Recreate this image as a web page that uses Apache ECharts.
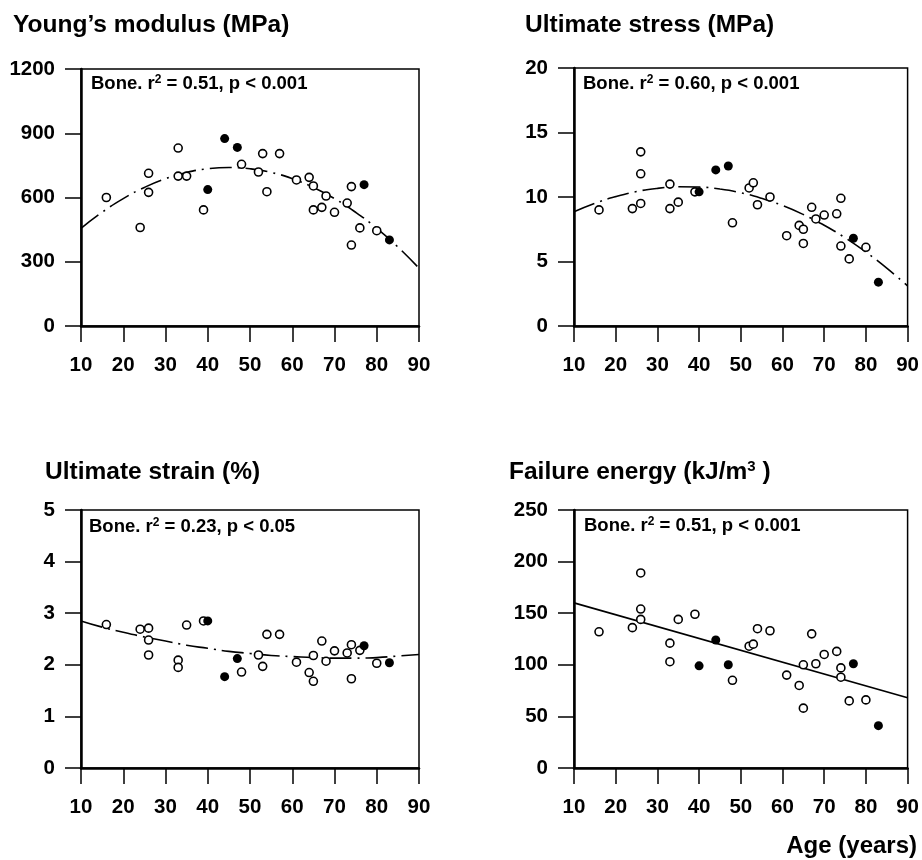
<!DOCTYPE html>
<html>
<head>
<meta charset="utf-8">
<script src="https://cdn.jsdelivr.net/npm/echarts@6/dist/echarts.min.js"></script>
<style>
html,body{margin:0;padding:0;background:#fff;}
#chart{width:922px;height:860px;}
</style>
</head>
<body>
<div id="chart"></div>
<script>
// ---------- data (age in years, value) ----------
const ageTicks = [10, 20, 30, 40, 50, 60, 70, 80, 90];

const youngOpen = [[16,600],[24,460],[26,713],[26,624],[33,831],[33,700],[35,700],[39,542],[48,755],[52,719],[53,805],[54,627],[57,805],[61,682],[64,694],[65,654],[65,542],[67,554],[68,607],[70,531],[73,574],[74,651],[74,378],[76,458],[80,445]];
const youngFilled = [[40,637],[44,875],[47,834],[77,660],[83,402]];
const youngFit = [[10,456],[15,531],[20,595],[25,647],[30,688],[35,717],[40,734],[45,740],[50,734],[55,717],[60,688],[65,647],[70,595],[75,531],[80,456],[85,369],[90,270]];

const stressOpen = [[16,9.0],[24,9.1],[26,13.5],[26,11.8],[26,9.5],[33,9.1],[33,11.0],[35,9.6],[39,10.4],[48,8.0],[52,10.7],[53,11.1],[54,9.4],[57,10.0],[61,7.0],[64,7.8],[65,7.5],[65,6.4],[67,9.2],[68,8.3],[70,8.6],[73,8.7],[74,9.9],[74,6.2],[76,5.2],[80,6.1]];
const stressFilled = [[40,10.4],[44,12.1],[47,12.4],[77,6.8],[83,3.4]];
const stressFit = [[10,8.85],[15,9.51],[20,10.03],[25,10.42],[30,10.67],[35,10.79],[40,10.77],[45,10.62],[50,10.33],[55,9.90],[60,9.34],[65,8.64],[70,7.81],[75,6.84],[80,5.73],[85,4.49],[90,3.11]];

const strainOpen = [[16,2.78],[24,2.69],[26,2.71],[26,2.48],[26,2.19],[33,2.09],[33,1.95],[35,2.77],[39,2.85],[48,1.86],[52,2.19],[53,1.97],[54,2.59],[57,2.59],[61,2.05],[64,1.85],[65,2.18],[65,1.68],[67,2.46],[68,2.07],[70,2.27],[73,2.23],[74,2.39],[74,1.73],[76,2.28],[80,2.03]];
const strainFilled = [[40,2.85],[44,1.77],[47,2.12],[77,2.37],[83,2.04]];
const strainFit = [[10,2.85],[15,2.73],[20,2.63],[25,2.54],[30,2.46],[35,2.38],[40,2.32],[45,2.26],[50,2.22],[55,2.18],[60,2.16],[65,2.14],[70,2.13],[75,2.13],[80,2.14],[85,2.17],[90,2.20]];

const energyOpen = [[16,132],[24,136],[26,189],[26,154],[26,144],[33,121],[33,103],[35,144],[39,149],[48,85],[52,118],[53,120],[54,135],[57,133],[61,90],[64,80],[65,100],[65,58],[67,130],[68,101],[70,110],[73,113],[74,97],[74,88],[76,65],[80,66]];
const energyFilled = [[40,99],[44,124],[47,100],[77,101],[83,41]];
const energyFit = [[10,160],[90,68]];

const panelTitles = ["Young\u2019s modulus (MPa)", "Ultimate stress (MPa)", "Ultimate strain (%)", "Failure energy (kJ/m{sup|3} )"];
const panelNotes = ["Bone. r{sup|2} = 0.51, p < 0.001", "Bone. r{sup|2} = 0.60, p < 0.001", "Bone. r{sup|2} = 0.23, p < 0.05", "Bone. r{sup|2} = 0.51, p < 0.001"];
const yMax = [1200, 20, 5, 250];
const yStep = [300, 5, 1, 50];
const xLabel = "Age (years)";

// ---------- layout ----------
const FONT = "'Liberation Sans', Arial, Helvetica, sans-serif";
const grids = [
  {left: 81, top: 69, width: 338, height: 257},
  {left: 574, top: 68, width: 336, height: 258},
  {left: 81, top: 510, width: 338, height: 258},
  {left: 574, top: 510, width: 335, height: 258}
];
const titlePos = [[13, 12.5], [525, 12.5], [45, 459.5], [509, 459]];
const notePos = [[91, 73.5], [583, 73.5], [89, 517], [584, 515.5]];
const dashes = [[22, 6, 2, 6], [22, 6, 2, 6], [22, 6, 2, 6], 'solid'];

const openSets = [youngOpen, stressOpen, strainOpen, energyOpen];
const filledSets = [youngFilled, stressFilled, strainFilled, energyFilled];
const fitSets = [youngFit, stressFit, strainFit, energyFit];

const supRich = (fs, sup) => ({
  sup: {fontSize: sup, fontWeight: 'bold', fontFamily: FONT, color: '#000', verticalAlign: 'top', lineHeight: fs + 1}
});

const option = {
  backgroundColor: '#fff',
  animation: false,
  grid: grids.map(g => Object.assign({show: true, borderColor: '#000', borderWidth: 1.5, backgroundColor: 'transparent'}, g)),
  xAxis: grids.map((g, i) => ({
    gridIndex: i, type: 'value', min: 10, max: 90, interval: 10,
    axisLine: {show: true, onZero: false, lineStyle: {color: '#000', width: 2.5}},
    axisTick: {show: true, length: 16, lineStyle: {color: '#000', width: 1.5}},
    axisLabel: {color: '#000', fontFamily: FONT, fontWeight: 'bold', fontSize: 20.5, margin: 29},
    splitLine: {show: false}
  })),
  yAxis: grids.map((g, i) => ({
    gridIndex: i, type: 'value', min: 0, max: yMax[i], interval: yStep[i],
    axisLine: {show: true, onZero: false, lineStyle: {color: '#000', width: 2.5}},
    axisTick: {show: true, length: 16, lineStyle: {color: '#000', width: 1.5}},
    axisLabel: {color: '#000', fontFamily: FONT, fontWeight: 'bold', fontSize: 20.5, margin: 26,
      formatter: v => String(v)},
    splitLine: {show: false}
  })),
  title: [],
  series: []
};

panelTitles.forEach((t, i) => {
  option.title.push({
    text: t, left: titlePos[i][0], top: titlePos[i][1], padding: 0,
    textStyle: {fontFamily: FONT, fontWeight: 'bold', fontSize: 24.5, color: '#000', lineHeight: 26, rich: supRich(24.5, 15)}
  });
  option.title.push({
    text: panelNotes[i], left: notePos[i][0], top: notePos[i][1], padding: 0,
    textStyle: {fontFamily: FONT, fontWeight: 'bold', fontSize: 18.5, color: '#000', lineHeight: 20, rich: supRich(18.5, 12)}
  });
});
option.title.push({
  text: xLabel, right: 5, top: 834, padding: 0,
  textStyle: {fontFamily: FONT, fontWeight: 'bold', fontSize: 24, color: '#000', lineHeight: 25}
});

for (let i = 0; i < 4; i++) {
  option.series.push({
    type: 'line', xAxisIndex: i, yAxisIndex: i, data: fitSets[i],
    smooth: i < 3, showSymbol: false, symbol: 'none', z: 2, silent: true,
    lineStyle: {color: '#000', width: 1.6, type: dashes[i]}
  });
  option.series.push({
    type: 'scatter', xAxisIndex: i, yAxisIndex: i, data: openSets[i],
    symbol: 'circle', symbolSize: 8, z: 3,
    itemStyle: {color: '#fff', borderColor: '#000', borderWidth: 1.6, opacity: 1}
  });
  option.series.push({
    type: 'scatter', xAxisIndex: i, yAxisIndex: i, data: filledSets[i],
    symbol: 'circle', symbolSize: 9, z: 4,
    itemStyle: {color: '#000', borderColor: '#000', borderWidth: 0, opacity: 1}
  });
}

const chart = echarts.init(document.getElementById('chart'), null, {renderer: 'canvas'});
chart.setOption(option);
</script>
</body>
</html>
